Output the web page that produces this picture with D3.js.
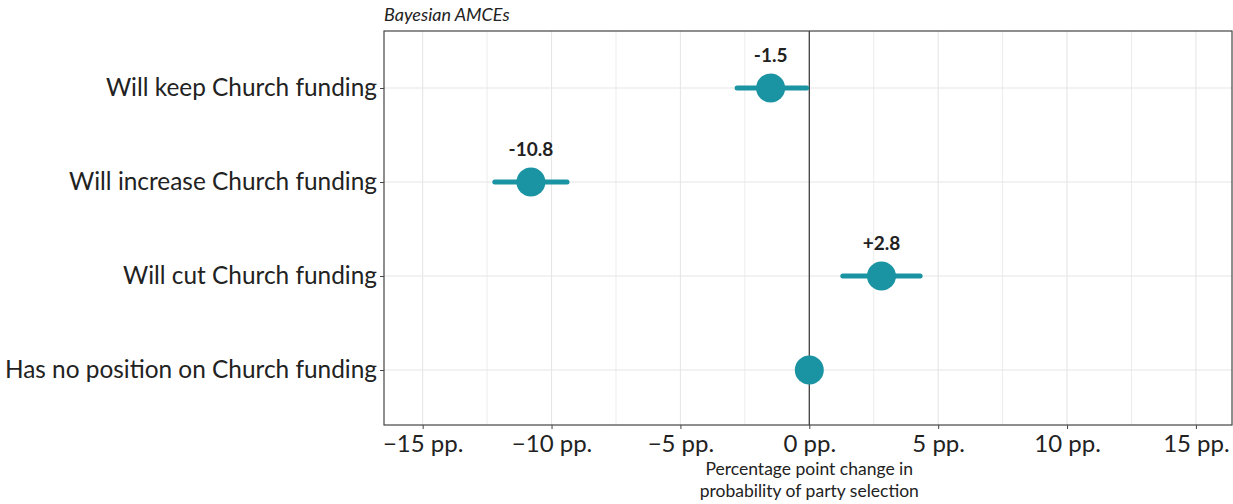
<!DOCTYPE html>
<html>
<head>
<meta charset="utf-8">
<script src="https://cdn.jsdelivr.net/npm/d3@7"></script>
<style>
  body { margin: 0; background: #fff; }
  svg { font-family: Lato, "Open Sans", sans-serif; }
</style>
</head>
<body>
<div id="chart"></div>
<script>
// data
const categories = [
  "Will keep Church funding",
  "Will increase Church funding",
  "Will cut Church funding",
  "Has no position on Church funding"
];
const estimates = [-1.5, -10.8, 2.8, 0];
const lower = [-2.8, -12.2, 1.3, null];
const upper = [-0.1, -9.4, 4.3, null];
const labels = ["-1.5", "-10.8", "+2.8", null];
const xTicks = [-15, -10, -5, 0, 5, 10, 15];
const xMinor = [-12.5, -7.5, -2.5, 2.5, 7.5, 12.5];

const data = categories.map((c, i) => ({
  name: c, est: estimates[i], lo: lower[i], hi: upper[i], label: labels[i]
}));

const width = 1233;
const height = 504;
const marginTop = 31;
const marginRight = 1;
const marginBottom = 79;
const marginLeft = 384;
const teal = "#1a93a3";

const svg = d3.select("#chart")
  .append("svg")
  .attr("width", width)
  .attr("height", height);

const x = d3.scaleLinear()
  .domain([-16.5, 16.4])
  .range([marginLeft, width - marginRight]);

// discrete y with ggplot-like expansion
const y = d3.scalePoint()
  .domain(categories)
  .range([marginTop + 57, height - marginBottom - 55]);

// grid
const grid = svg.append("g");
grid.selectAll(".vminor")
  .data(xMinor)
  .join("line")
  .attr("x1", d => x(d)).attr("x2", d => x(d))
  .attr("y1", marginTop).attr("y2", height - marginBottom)
  .attr("stroke", "#ececec").attr("stroke-width", 1);
grid.selectAll(".vmajor")
  .data(xTicks)
  .join("line")
  .attr("x1", d => x(d)).attr("x2", d => x(d))
  .attr("y1", marginTop).attr("y2", height - marginBottom)
  .attr("stroke", "#e6e6e6").attr("stroke-width", 1.1);
grid.selectAll(".hmajor")
  .data(categories)
  .join("line")
  .attr("x1", marginLeft).attr("x2", width - marginRight)
  .attr("y1", d => y(d)).attr("y2", d => y(d))
  .attr("stroke", "#e6e6e6").attr("stroke-width", 1.1);

// zero line
svg.append("line")
  .attr("x1", x(0)).attr("x2", x(0))
  .attr("y1", marginTop).attr("y2", height - marginBottom)
  .attr("stroke", "#333").attr("stroke-width", 1.2);

// intervals
svg.append("g")
  .selectAll("line")
  .data(data.filter(d => d.lo !== null))
  .join("line")
  .attr("x1", d => x(d.lo)).attr("x2", d => x(d.hi))
  .attr("y1", d => y(d.name)).attr("y2", d => y(d.name))
  .attr("stroke", teal).attr("stroke-width", 5)
  .attr("stroke-linecap", "round");

// points
svg.append("g")
  .selectAll("circle")
  .data(data)
  .join("circle")
  .attr("cx", d => x(d.est))
  .attr("cy", d => y(d.name))
  .attr("r", 14.5)
  .attr("fill", teal);

// value labels
svg.append("g")
  .selectAll("text")
  .data(data.filter(d => d.label))
  .join("text")
  .attr("x", d => x(d.est))
  .attr("y", d => y(d.name) - 26)
  .attr("text-anchor", "middle")
  .attr("font-size", "19px")
  .attr("font-weight", "bold")
  .attr("fill", "#222")
  .text(d => d.label);

// panel border
svg.append("rect")
  .attr("x", marginLeft).attr("y", marginTop)
  .attr("width", width - marginRight - marginLeft)
  .attr("height", height - marginBottom - marginTop)
  .attr("fill", "none")
  .attr("stroke", "#444").attr("stroke-width", 1.2);

// x axis
const gx = svg.append("g")
  .attr("transform", `translate(0,${height - marginBottom})`)
  .call(d3.axisBottom(x).tickValues(xTicks).tickSize(4).tickPadding(6)
    .tickFormat(d => (d < 0 ? "\u2212" + Math.abs(d) : d) + " pp."))
  .call(g => g.select(".domain").remove());
gx.selectAll("line").attr("stroke", "#444");
gx.selectAll("text")
  .attr("font-size", "24px")
  .attr("fill", "#222")
  .attr("font-family", "Lato, sans-serif");

// y axis
const gy = svg.append("g")
  .attr("transform", `translate(${marginLeft},0)`)
  .call(d3.axisLeft(y).tickSize(4).tickPadding(3))
  .call(g => g.select(".domain").remove());
gy.selectAll("line").attr("stroke", "#444");
gy.selectAll("text")
  .attr("font-size", "24.4px")
  .attr("fill", "#222")
  .attr("font-family", "Lato, sans-serif");

// axis title, two lines
svg.append("text")
  .attr("x", x(0)).attr("y", 475)
  .attr("text-anchor", "middle")
  .attr("font-size", "17.5px")
  .attr("fill", "#222")
  .text("Percentage point change in");
svg.append("text")
  .attr("x", x(0)).attr("y", 497)
  .attr("text-anchor", "middle")
  .attr("font-size", "17.5px")
  .attr("fill", "#222")
  .text("probability of party selection");

// subtitle
svg.append("text")
  .attr("x", marginLeft)
  .attr("y", 21)
  .attr("font-size", "18px")
  .attr("font-style", "italic")
  .attr("fill", "#222")
  .text("Bayesian AMCEs");
</script>
</body>
</html>
